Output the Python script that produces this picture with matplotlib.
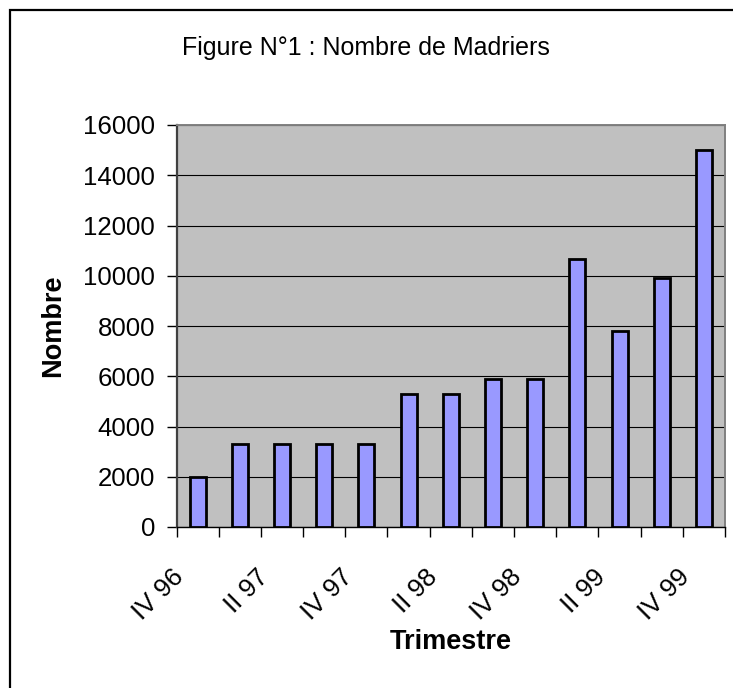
import numpy as np
import matplotlib
matplotlib.use('Agg')
import matplotlib.pyplot as plt
import matplotlib.transforms as mtransforms
from matplotlib.patches import Rectangle

plt.rcParams['font.family'] = ['Liberation Sans', 'DejaVu Sans']

# Data
Trimestres = ['IV 96', 'I 97', 'II 97', 'III 97', 'IV 97', 'I 98', 'II 98',
              'III 98', 'IV 98', 'I 99', 'II 99', 'III 99', 'IV 99']
Nombre = [2000, 3300, 3300, 3300, 3300, 5290, 5290, 5880, 5880, 10670, 7800, 9930, 15000]
Yticks = [0, 2000, 4000, 6000, 8000, 10000, 12000, 14000, 16000]

fig = plt.figure(figsize=(7.33, 6.88), dpi=100)
ax = fig.add_axes([176.5/733, 1-527/688, (725-176.5)/733, (527-125)/688])

# Chart border (frame around the whole chart)
fig.patches.append(Rectangle((10/733, -0.05), 1.1, 1.05 - 10/688,
                             transform=fig.transFigure, fill=False,
                             edgecolor='black', linewidth=1.6))

x = np.arange(len(Trimestres))
ax.set_facecolor('#C0C0C0')
ax.bar(x, Nombre, width=0.38, color='#9999FF', edgecolor='black', linewidth=2, zorder=3)

ax.set_xlim(-0.5, len(Trimestres) - 0.5)
ax.set_ylim(0, 16000)
ax.set_yticks(Yticks)
ax.set_yticklabels([str(v) for v in Yticks], fontsize=18.6)
ax.yaxis.grid(True, color='black', linewidth=0.8, zorder=1)
ax.set_axisbelow(True)
ax.tick_params(axis='y', direction='out', length=7, width=1, pad=8.5)

# Category labels every other quarter, tick marks between categories
ax.set_xticks(x[::2])
ax.set_xticklabels(Trimestres[::2], fontsize=18.6, rotation=45, ha='right', va='top')
ax.set_xticks(np.arange(-0.5, len(Trimestres)), minor=True)
ax.tick_params(axis='x', which='major', length=0, pad=27)
ax.tick_params(axis='x', which='minor', direction='out', length=7, width=1)
offset = mtransforms.ScaledTranslation(-9/100, 0, fig.dpi_scale_trans)
for lbl in ax.get_xticklabels():
    lbl.set_transform(lbl.get_transform() + offset)

ax.spines['left'].set_color('#404040')
ax.spines['left'].set_linewidth(1.6)
ax.spines['bottom'].set_color('black')
ax.spines['bottom'].set_linewidth(1)
ax.spines['top'].set_color('#808080')
ax.spines['right'].set_color('#808080')
ax.spines['top'].set_linewidth(1.4)
ax.spines['right'].set_linewidth(1.4)

fig.text(366/733, 1-48/688, 'Figure N°1 : Nombre de Madriers', fontsize=18,
         ha='center', va='center')
fig.text(53/733, 1-326/688, 'Nombre', fontsize=19.5, fontweight='bold',
         rotation=90, ha='center', va='center')
fig.text(451/733, 1-642/688, 'Trimestre', fontsize=19.5, fontweight='bold',
         ha='center', va='center')

fig.savefig('out.png', dpi=100)
